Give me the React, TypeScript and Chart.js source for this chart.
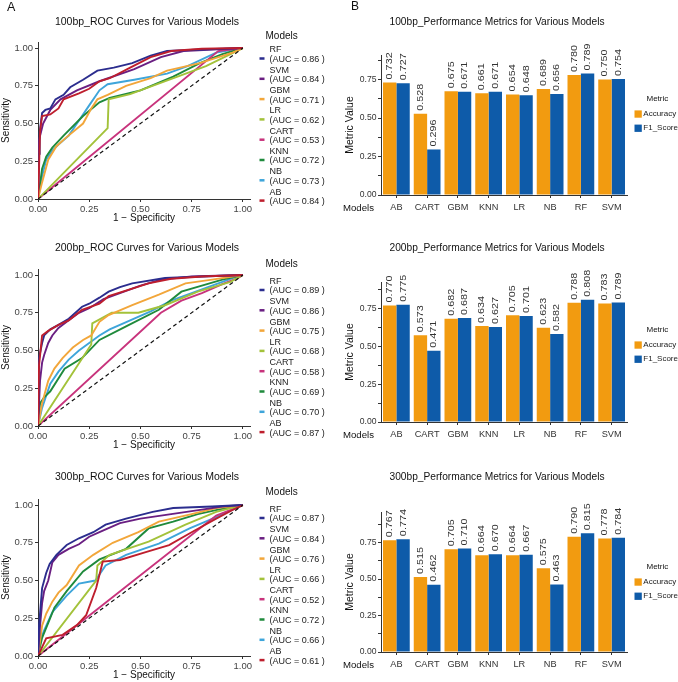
import React, { useEffect, useRef } from "react";
import { Chart, registerables } from "chart.js";

Chart.register(...registerables);

const FONT = "'Liberation Sans', Arial, Helvetica, sans-serif";

// ---------- ROC data ----------
const MODELS = ["RF", "SVM", "GBM", "LR", "CART", "KNN", "NB", "AB"];
const ROC_COLORS = ["#2B2D8E", "#6A1F82", "#F2A63A", "#A3C23A", "#C8337C", "#1F8A3C", "#3EA5DA", "#BE1E2D"];
const AUC_100 = [0.86, 0.84, 0.71, 0.62, 0.53, 0.72, 0.73, 0.84];
const AUC_200 = [0.89, 0.86, 0.75, 0.68, 0.58, 0.69, 0.70, 0.87];
const AUC_300 = [0.87, 0.84, 0.76, 0.66, 0.52, 0.72, 0.66, 0.61];
const ROC_TICKS = [0, 0.25, 0.5, 0.75, 1];

const RF_100 = [[0,0],[0.005,0.3],[0.008,0.44],[0.02,0.57],[0.036,0.59],[0.06,0.6],[0.085,0.66],[0.125,0.69],[0.157,0.74],[0.22,0.79],[0.29,0.85],[0.37,0.87],[0.46,0.9],[0.55,0.95],[0.63,0.98],[0.8,0.99],[1,1]];
const SVM_100 = [[0,0],[0.005,0.39],[0.025,0.5],[0.06,0.59],[0.11,0.66],[0.19,0.72],[0.3,0.78],[0.47,0.86],[0.6,0.94],[0.71,0.98],[1,1]];
const GBM_100 = [[0,0],[0.02,0.11],[0.05,0.26],[0.09,0.35],[0.14,0.41],[0.22,0.5],[0.26,0.6],[0.29,0.66],[0.34,0.69],[0.43,0.75],[0.55,0.8],[0.63,0.85],[0.79,0.9],[0.95,0.97],[1,1]];
const LR_100 = [[0,0],[0.34,0.47],[0.345,0.66],[0.45,0.695],[0.82,0.88],[1,1]];
const CART_100 = [[0,0],[0.88,0.98],[1,1]];
const KNN_100 = [[0,0],[0.02,0.2],[0.04,0.28],[0.07,0.34],[0.125,0.42],[0.22,0.55],[0.3,0.64],[0.35,0.67],[0.5,0.72],[0.66,0.81],[0.79,0.9],[0.9,0.96],[1,1]];
const NB_100 = [[0,0],[0.02,0.15],[0.04,0.26],[0.07,0.32],[0.1,0.36],[0.15,0.42],[0.2,0.52],[0.25,0.62],[0.3,0.72],[0.34,0.76],[0.47,0.79],[0.63,0.83],[0.73,0.88],[0.87,0.97],[1,1]];
const AB_100 = [[0,0],[0.005,0.2],[0.01,0.45],[0.02,0.55],[0.06,0.56],[0.1,0.6],[0.125,0.66],[0.2,0.7],[0.25,0.73],[0.3,0.78],[0.35,0.8],[0.45,0.87],[0.55,0.94],[0.65,0.98],[0.8,0.995],[1,1]];

const RF_200 = [[0,0],[0.005,0.45],[0.02,0.55],[0.03,0.6],[0.06,0.64],[0.1,0.67],[0.15,0.71],[0.215,0.79],[0.25,0.81],[0.3,0.85],[0.345,0.89],[0.4,0.92],[0.46,0.945],[0.62,0.98],[0.8,0.99],[1,1]];
const SVM_200 = [[0,0],[0.01,0.3],[0.02,0.42],[0.03,0.47],[0.05,0.55],[0.07,0.6],[0.1,0.65],[0.15,0.7],[0.2,0.75],[0.25,0.78],[0.32,0.84],[0.4,0.88],[0.5,0.93],[0.6,0.97],[0.75,0.99],[1,1]];
const GBM_200 = [[0,0],[0.02,0.15],[0.05,0.3],[0.08,0.38],[0.12,0.45],[0.17,0.52],[0.22,0.57],[0.26,0.6],[0.3,0.69],[0.345,0.735],[0.46,0.8],[0.59,0.87],[0.72,0.945],[0.85,0.97],[1,1]];
const LR_200 = [[0,0],[0.26,0.54],[0.265,0.68],[0.36,0.75],[0.49,0.75],[0.62,0.8],[0.78,0.89],[0.94,0.955],[1,1]];
const CART_200 = [[0,0],[0.6,0.75],[0.7,0.83],[0.8,0.88],[0.9,0.94],[0.976,0.98],[1,1]];
const KNN_200 = [[0,0],[0.01,0.15],[0.03,0.19],[0.06,0.23],[0.13,0.38],[0.215,0.45],[0.3,0.57],[0.43,0.66],[0.59,0.77],[0.7,0.89],[0.8,0.93],[0.9,0.97],[1,1]];
const NB_200 = [[0,0],[0.02,0.12],[0.04,0.2],[0.06,0.28],[0.1,0.36],[0.15,0.44],[0.2,0.5],[0.25,0.55],[0.3,0.6],[0.35,0.64],[0.45,0.7],[0.55,0.76],[0.65,0.83],[0.75,0.88],[0.85,0.93],[0.95,0.98],[1,1]];
const AB_200 = [[0,0],[0.005,0.4],[0.02,0.6],[0.05,0.63],[0.1,0.67],[0.15,0.7],[0.215,0.77],[0.3,0.81],[0.345,0.86],[0.46,0.91],[0.54,0.945],[0.65,0.975],[0.8,0.99],[1,1]];

const RF_300 = [[0,0],[0.005,0.2],[0.02,0.45],[0.04,0.55],[0.057,0.61],[0.09,0.67],[0.14,0.735],[0.2,0.78],[0.27,0.82],[0.33,0.87],[0.43,0.91],[0.56,0.955],[0.66,0.98],[0.85,0.99],[1,1]];
const SVM_300 = [[0,0],[0.01,0.2],[0.02,0.35],[0.03,0.43],[0.05,0.5],[0.07,0.62],[0.1,0.67],[0.15,0.71],[0.2,0.74],[0.25,0.79],[0.3,0.82],[0.35,0.85],[0.4,0.88],[0.5,0.91],[0.6,0.93],[0.7,0.95],[0.8,0.97],[0.9,0.99],[1,1]];
const GBM_300 = [[0,0],[0.02,0.2],[0.04,0.28],[0.07,0.36],[0.1,0.42],[0.14,0.47],[0.2,0.6],[0.27,0.67],[0.365,0.75],[0.49,0.82],[0.59,0.89],[0.75,0.94],[0.87,0.98],[1,1]];
const LR_300 = [[0,0],[0.284,0.5],[0.29,0.6],[0.35,0.67],[0.54,0.757],[0.72,0.87],[0.87,0.955],[1,1]];
const CART_300 = [[0,0],[0.87,0.93],[1,1]];
const KNN_300 = [[0,0],[0.02,0.12],[0.05,0.22],[0.08,0.32],[0.14,0.43],[0.22,0.56],[0.3,0.64],[0.43,0.71],[0.54,0.845],[0.66,0.89],[0.78,0.94],[0.88,0.97],[1,1]];
const NB_300 = [[0,0],[0.01,0.1],[0.03,0.17],[0.07,0.29],[0.14,0.4],[0.2,0.48],[0.28,0.5],[0.33,0.6],[0.43,0.67],[0.59,0.745],[0.74,0.845],[0.87,0.92],[1,1]];
const AB_300 = [[0,0],[0.04,0.117],[0.12,0.14],[0.19,0.205],[0.235,0.27],[0.284,0.45],[0.316,0.625],[0.4,0.636],[0.53,0.69],[0.64,0.735],[0.75,0.82],[0.87,0.91],[0.95,0.967],[1,1]];

const ROC_SETS = [
  [RF_100, SVM_100, GBM_100, LR_100, CART_100, KNN_100, NB_100, AB_100],
  [RF_200, SVM_200, GBM_200, LR_200, CART_200, KNN_200, NB_200, AB_200],
  [RF_300, SVM_300, GBM_300, LR_300, CART_300, KNN_300, NB_300, AB_300],
];
const AUCS = [AUC_100, AUC_200, AUC_300];
const ROC_TITLES = ["100bp_ROC Curves for Various Models", "200bp_ROC Curves for Various Models", "300bp_ROC Curves for Various Models"];

// ---------- Bar data ----------
const BAR_CATEGORIES = ["AB", "CART", "GBM", "KNN", "LR", "NB", "RF", "SVM"];
const ACC_100 = [0.732, 0.528, 0.675, 0.661, 0.654, 0.689, 0.780, 0.750];
const F1_100 = [0.727, 0.296, 0.671, 0.671, 0.648, 0.656, 0.789, 0.754];
const ACC_200 = [0.770, 0.573, 0.682, 0.634, 0.705, 0.623, 0.788, 0.783];
const F1_200 = [0.775, 0.471, 0.687, 0.627, 0.701, 0.582, 0.808, 0.789];
const ACC_300 = [0.767, 0.515, 0.705, 0.664, 0.664, 0.575, 0.790, 0.778];
const F1_300 = [0.774, 0.462, 0.710, 0.670, 0.667, 0.463, 0.815, 0.784];
const BAR_TICKS = [0, 0.125, 0.25, 0.375, 0.5, 0.625, 0.75, 0.875];
const BAR_MAX = [0.91, 0.925, 0.96];
const BAR_SETS = [[ACC_100, F1_100], [ACC_200, F1_200], [ACC_300, F1_300]];
const BAR_TITLES = ["100bp_Performance Metrics for Various Models", "200bp_Performance Metrics for Various Models", "300bp_Performance Metrics for Various Models"];
const METRICS = ["Accuracy", "F1_Score"];
const BAR_COLORS = ["#F29B10", "#0E5BA9"];

// ---------- layout ----------
const ROW_TOPS = [0, 227, 457];
const TITLE_Y = [22, 21, 20];
const ROC_LEG_TITLE_Y = [36, 37, 35];
const ROC_LEG_FIRST_Y = [50, 54.5, 52.5];
const BAR_LEG_Y = [99, 103, 110];
const W_LEFT = 340;
const W_RIGHT = 338;
const H = 228;

Chart.defaults.font.family = FONT;

function rocChart(canvas: HTMLCanvasElement, row: number) {
  const deco = {
    id: "rocDeco",
    afterDraw(chart: any) {
      const ctx = chart.ctx;
      ctx.save();
      ctx.fillStyle = "#111";
      ctx.font = `10.5px ${FONT}`;
      ctx.textAlign = "center";
      ctx.textBaseline = "middle";
      ctx.fillText(ROC_TITLES[row], 147, TITLE_Y[row]);
      if (row === 0) {
        ctx.font = `12.5px ${FONT}`;
        ctx.textAlign = "left";
        ctx.fillText("A", 7, 8);
      }
      ctx.textAlign = "left";
      ctx.font = `10px ${FONT}`;
      ctx.fillStyle = "#111";
      ctx.fillText("Models", 265.5, ROC_LEG_TITLE_Y[row]);
      ctx.font = `9px ${FONT}`;
      MODELS.forEach((m, i) => {
        const y1 = ROC_LEG_FIRST_Y[row] + i * 20.3;
        const y2 = y1 + 9.5;
        ctx.fillStyle = ROC_COLORS[i];
        ctx.fillRect(259.5, (y1 + y2) / 2 + 2.5, 5, 2.5);
        ctx.fillStyle = "#222";
        ctx.fillText(m, 269.5, y1);
        ctx.fillText(`(AUC = ${AUCS[row][i].toFixed(2)} )`, 269.5, y2);
      });
      ctx.restore();
    },
  };
  const datasets: any[] = MODELS.map((m, i) => ({
    label: m,
    data: ROC_SETS[row][i].map(([x, y]) => ({ x, y })),
    borderColor: ROC_COLORS[i],
    backgroundColor: ROC_COLORS[i],
    borderWidth: 1.9,
    pointRadius: 0,
    tension: 0,
    fill: false,
    order: i === 7 ? 2 : 3,
  }));
  datasets.push({
    label: "diag",
    data: [{ x: 0, y: 0 }, { x: 1, y: 1 }],
    borderColor: "#111",
    borderWidth: 1.2,
    borderDash: [4, 3],
    pointRadius: 0,
    fill: false,
    order: 1,
  });
  const axisCommon = {
    type: "linear",
    min: 0,
    afterBuildTicks: (s: any) => {
      s.ticks = ROC_TICKS.map((v) => ({ value: v }));
    },
    grid: { drawOnChartArea: false, drawTicks: true, tickLength: 3, color: "#333", lineWidth: 1 },
    border: { display: true, color: "#333", width: 1 },
  };
  return new Chart(canvas, {
    type: "line",
    data: { datasets },
    plugins: [deco],
    options: {
      animation: false,
      responsive: false,
      devicePixelRatio: 1,
      layout: { padding: { left: 0, top: 42, right: 90, bottom: 0 } },
      plugins: { legend: { display: false }, title: { display: false }, tooltip: { enabled: false } },
      scales: {
        x: {
          ...axisCommon,
          max: 1.035,
          afterFit: (s: any) => { s.height = H - 199; },
          ticks: { font: { size: 9.5 }, color: "#444", padding: 2, maxRotation: 0, autoSkip: false, callback: (v: any) => Number(v).toFixed(2) },
          title: { display: true, text: "1 \u2212 Specificity", font: { size: 10 }, color: "#111", padding: { top: 0, bottom: 4 } },
        },
        y: {
          ...axisCommon,
          max: 1.04,
          afterFit: (s: any) => { s.width = 38; },
          ticks: { font: { size: 9.5 }, color: "#444", padding: 2, autoSkip: false, callback: (v: any) => Number(v).toFixed(2) },
          title: { display: true, text: "Sensitivity", font: { size: 10 }, color: "#111", padding: { top: 0, bottom: 0 } },
        },
      },
    } as any,
  });
}

function barChart(canvas: HTMLCanvasElement, row: number) {
  const deco = {
    id: "barDeco",
    afterDatasetsDraw(chart: any) {
      const ctx = chart.ctx;
      ctx.save();
      ctx.fillStyle = "#333";
      ctx.font = `9px ${FONT}`;
      ctx.textAlign = "left";
      ctx.textBaseline = "middle";
      chart.data.datasets.forEach((ds: any, di: number) => {
        const meta = chart.getDatasetMeta(di);
        meta.data.forEach((bar: any, i: number) => {
          ctx.save();
          ctx.translate(bar.x, bar.y - 3);
          ctx.rotate(-Math.PI / 2);
          ctx.scale(1.2, 1);
          ctx.fillText(Number(ds.data[i]).toFixed(3), 0, 0);
          ctx.restore();
        });
      });
      ctx.restore();
    },
    afterDraw(chart: any) {
      const ctx = chart.ctx;
      ctx.save();
      ctx.fillStyle = "#111";
      ctx.textBaseline = "middle";
      ctx.font = `10.2px ${FONT}`;
      ctx.textAlign = "center";
      ctx.fillText(BAR_TITLES[row], 157, TITLE_Y[row]);
      ctx.textAlign = "left";
      if (row === 0) {
        ctx.font = `12px ${FONT}`;
        ctx.fillText("B", 11, 7);
      }
      ctx.font = `9.6px ${FONT}`;
      ctx.fillText("Models", 3, 208);
      // legend
      ctx.font = `8px ${FONT}`;
      ctx.fillText("Metric", 306.5, BAR_LEG_Y[row]);
      METRICS.forEach((m, i) => {
        const y = BAR_LEG_Y[row] + 15 + i * 14.2;
        ctx.fillStyle = BAR_COLORS[i];
        ctx.fillRect(294.5, y - 3.6, 7.3, 7.3);
        ctx.fillStyle = "#222";
        ctx.fillText(m, 303.3, y);
      });
      ctx.restore();
    },
  };
  return new Chart(canvas, {
    type: "bar",
    data: {
      labels: BAR_CATEGORIES,
      datasets: METRICS.map((m, i) => ({
        label: m,
        data: BAR_SETS[row][i],
        backgroundColor: BAR_COLORS[i],
        borderWidth: 0,
        categoryPercentage: 0.87,
        barPercentage: 1.0,
      })),
    },
    plugins: [deco],
    options: {
      animation: false,
      responsive: false,
      devicePixelRatio: 1,
      layout: { padding: { left: 0, top: 55, right: W_RIGHT - 287, bottom: 0 } },
      plugins: { legend: { display: false }, title: { display: false }, tooltip: { enabled: false } },
      scales: {
        x: {
          type: "category",
          offset: true,
          afterFit: (s: any) => { s.height = H - 195; },
          grid: { drawOnChartArea: false, drawTicks: true, tickLength: 3, color: "#333", offset: false },
          border: { display: true, color: "#333", width: 1 },
          ticks: { font: { size: 9.2 }, color: "#333", padding: 4, maxRotation: 0, autoSkip: false },
        },
        y: {
          type: "linear",
          min: 0,
          max: BAR_MAX[row],
          afterFit: (s: any) => { s.width = 41; },
          afterBuildTicks: (s: any) => {
            s.ticks = BAR_TICKS.filter((v) => v <= BAR_MAX[row]).map((v) => ({ value: v }));
          },
          grid: { drawOnChartArea: false, drawTicks: true, tickLength: 3, color: "#333" },
          border: { display: true, color: "#333", width: 1 },
          ticks: {
            font: { size: 8.6 },
            color: "#333",
            padding: 1.5,
            autoSkip: false,
            callback: (v: any) => (Math.abs((Number(v) / 0.25) - Math.round(Number(v) / 0.25)) < 1e-6 ? Number(v).toFixed(2) : ""),
          },
          title: { display: true, text: "Metric Value", font: { size: 10.5 }, color: "#111", padding: { top: 4, bottom: 0 } },
        },
      },
    } as any,
  });
}

function Panel({ kind, row }: { kind: "roc" | "bar"; row: number }) {
  const ref = useRef<HTMLCanvasElement | null>(null);
  useEffect(() => {
    if (!ref.current) return;
    const c = kind === "roc" ? rocChart(ref.current, row) : barChart(ref.current, row);
    return () => c.destroy();
  }, [kind, row]);
  const w = kind === "roc" ? W_LEFT : W_RIGHT;
  return (
    <canvas
      ref={ref}
      width={w}
      height={H}
      style={{ position: "absolute", left: kind === "roc" ? 0 : W_LEFT, top: ROW_TOPS[row], width: w, height: H }}
    />
  );
}

export default function App() {
  return (
    <div style={{ position: "fixed", left: 0, top: 0, width: 678, height: 682, background: "#fff", overflow: "hidden" }}>
      {[0, 1, 2].map((r) => (
        <React.Fragment key={r}>
          <Panel kind="roc" row={r} />
          <Panel kind="bar" row={r} />
        </React.Fragment>
      ))}
    </div>
  );
}
